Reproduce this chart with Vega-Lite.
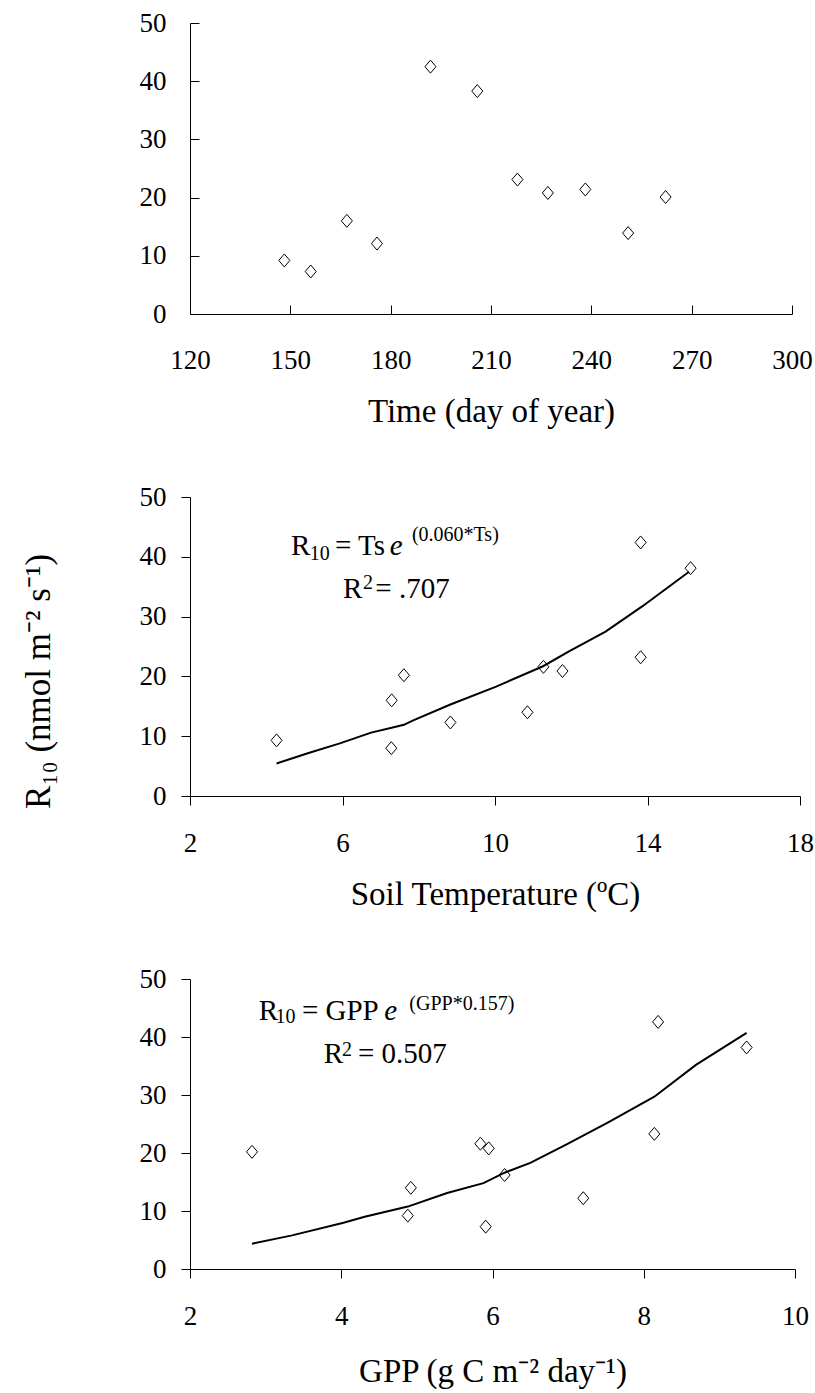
{
  "$schema": "https://vega.github.io/schema/vega-lite/v6.json",
  "background": "white",
  "padding": {"left": 20, "top": 9, "right": 10, "bottom": 10},
  "spacing": 183,
  "bounds": "flush",
  "config": {
    "view": {"stroke": null},
    "font": "Liberation Serif",
    "axis": {
      "grid": false,
      "domainColor": "black",
      "domainWidth": 1,
      "tickColor": "black",
      "tickWidth": 1,
      "tickSize": 9,
      "labelColor": "black",
      "titleColor": "black",
      "labelFont": "Liberation Serif",
      "titleFont": "Liberation Serif",
      "labelFontSize": 27,
      "titleFontSize": 33,
      "titleFontWeight": "normal",
      "labelOverlap": false,
      "labelFlush": false,
      "labelBound": false,
      "format": "d"
    }
  },
  "datasets": {
    "doy": [
      {"day": 148.2, "r10": 9.2},
      {"day": 156.1, "r10": 7.3},
      {"day": 166.9, "r10": 16.0},
      {"day": 175.9, "r10": 12.1},
      {"day": 191.9, "r10": 42.5},
      {"day": 205.9, "r10": 38.3},
      {"day": 217.9, "r10": 23.1},
      {"day": 227.0, "r10": 20.8},
      {"day": 238.2, "r10": 21.4},
      {"day": 251.0, "r10": 13.9},
      {"day": 262.2, "r10": 20.1}
    ],
    "ts": [
      {"ts": 4.27, "r10": 9.3},
      {"ts": 7.29, "r10": 16.0},
      {"ts": 7.28, "r10": 8.0},
      {"ts": 7.61, "r10": 20.2},
      {"ts": 8.83, "r10": 12.3},
      {"ts": 10.85, "r10": 14.0},
      {"ts": 11.27, "r10": 21.6},
      {"ts": 11.77, "r10": 20.9},
      {"ts": 13.82, "r10": 42.4},
      {"ts": 13.82, "r10": 23.2},
      {"ts": 15.13, "r10": 38.1}
    ],
    "tsfit": [
      {"ts": 4.27, "fit": 5.44},
      {"ts": 5.11, "fit": 7.2},
      {"ts": 5.93, "fit": 8.8},
      {"ts": 6.75, "fit": 10.6},
      {"ts": 7.29, "fit": 11.4},
      {"ts": 7.61, "fit": 11.9},
      {"ts": 7.84, "fit": 12.6},
      {"ts": 8.83, "fit": 15.3},
      {"ts": 10.03, "fit": 18.3},
      {"ts": 11.26, "fit": 21.7},
      {"ts": 11.94, "fit": 24.2},
      {"ts": 12.9, "fit": 27.5},
      {"ts": 13.86, "fit": 31.7},
      {"ts": 15.09, "fit": 37.5}
    ],
    "gpp": [
      {"gpp": 2.82, "r10": 20.2},
      {"gpp": 4.88, "r10": 9.2},
      {"gpp": 4.92, "r10": 14.0},
      {"gpp": 5.84, "r10": 21.6},
      {"gpp": 5.95, "r10": 20.8},
      {"gpp": 5.91, "r10": 7.3},
      {"gpp": 6.16, "r10": 16.2},
      {"gpp": 7.2, "r10": 12.2},
      {"gpp": 8.14, "r10": 23.3},
      {"gpp": 8.19, "r10": 42.6},
      {"gpp": 9.36, "r10": 38.2}
    ],
    "gppfit": [
      {"gpp": 2.82, "fit": 4.36},
      {"gpp": 3.35, "fit": 5.8},
      {"gpp": 4.03, "fit": 7.97},
      {"gpp": 4.31, "fit": 9.0},
      {"gpp": 4.88, "fit": 10.76},
      {"gpp": 5.4, "fit": 13.1},
      {"gpp": 5.88, "fit": 14.8},
      {"gpp": 6.16, "fit": 16.6},
      {"gpp": 6.5, "fit": 18.3},
      {"gpp": 6.98, "fit": 21.5},
      {"gpp": 7.53, "fit": 25.3},
      {"gpp": 8.14, "fit": 29.7},
      {"gpp": 8.69, "fit": 35.2},
      {"gpp": 9.36, "fit": 40.7}
    ],
    "ann2main": [
      {"x": 4.65, "y": 40.3, "t": "R"},
      {"x": 5.8, "y": 40.3, "t": "= Ts"},
      {"x": 6.01, "y": 33.1, "t": "R"},
      {"x": 6.86, "y": 33.1, "t": "= .707"}
    ],
    "ann2small": [
      {"x": 5.14, "y": 39.5, "t": "10"},
      {"x": 7.82, "y": 42.6, "t": "(0.060*Ts)"},
      {"x": 6.54, "y": 34.6, "t": "2"}
    ],
    "ann2ital": [
      {"x": 7.24, "y": 40.3, "t": "e"}
    ],
    "ann3main": [
      {"x": 2.91, "y": 42.9, "t": "R"},
      {"x": 3.48, "y": 42.9, "t": "= GPP"},
      {"x": 3.77, "y": 35.5, "t": "R"},
      {"x": 4.22, "y": 35.5, "t": "= 0.507"}
    ],
    "ann3small": [
      {"x": 3.13, "y": 42.4, "t": "10"},
      {"x": 4.9, "y": 44.7, "t": "(GPP*0.157)"},
      {"x": 4.01, "y": 36.7, "t": "2"}
    ],
    "ann3ital": [
      {"x": 4.57, "y": 42.9, "t": "e"}
    ]
  },
  "vconcat": [
    {
      "width": 602,
      "height": 291,
      "data": {"name": "doy"},
      "mark": {"type": "point", "shape": "M-0.85,0L0,-1L0.85,0L0,1Z", "size": 169, "filled": false, "stroke": "black", "strokeWidth": 1, "opacity": 1},
      "encoding": {
        "x": {
          "field": "day", "type": "quantitative",
          "scale": {"domain": [120, 300], "nice": false, "zero": false},
          "axis": {"values": [120, 150, 180, 210, 240, 270, 300], "title": "Time (day of year)", "tickSize": -9, "labelPadding": 42, "titlePadding": 22}
        },
        "y": {
          "field": "r10", "type": "quantitative",
          "scale": {"domain": [0, 50], "nice": false},
          "axis": {"values": [0, 10, 20, 30, 40, 50], "title": null, "tickSize": -9, "labelPadding": 33}
        }
      }
    },
    {
      "width": 610,
      "height": 299,
      "layer": [
        {
          "data": {"name": "tsfit"},
          "mark": {"type": "line", "color": "black", "strokeWidth": 2},
          "encoding": {
            "x": {"field": "ts", "type": "quantitative"},
            "y": {"field": "fit", "type": "quantitative"}
          }
        },
        {
          "data": {"name": "ts"},
          "mark": {"type": "point", "shape": "M-0.85,0L0,-1L0.85,0L0,1Z", "size": 169, "filled": false, "stroke": "black", "strokeWidth": 1, "opacity": 1},
          "encoding": {
            "x": {
              "field": "ts", "type": "quantitative",
              "scale": {"domain": [2, 18], "nice": false, "zero": false},
              "axis": {"values": [2, 6, 10, 14, 18], "title": "Soil Temperature (ºC)", "labelPadding": 25, "titlePadding": 22}
            },
            "y": {
              "field": "r10", "type": "quantitative",
              "scale": {"domain": [0, 50], "nice": false},
              "axis": {"values": [0, 10, 20, 30, 40, 50], "labelPadding": 15, "title": "R₁₀ (nmol m⁻² s⁻¹)", "titleFontSize": 35, "titleFontWeight": "normal", "titleX": -141, "titleY": 184, "titleBaseline": "alphabetic", "titleAlign": "center", "titleAngle": -90}
            }
          }
        },
        {
          "data": {"name": "ann2main"},
          "mark": {"type": "text", "align": "left", "baseline": "alphabetic", "fontSize": 29, "font": "Liberation Serif", "color": "black"},
          "encoding": {"x": {"field": "x", "type": "quantitative"}, "y": {"field": "y", "type": "quantitative"}, "text": {"field": "t"}}
        },
        {
          "data": {"name": "ann2small"},
          "mark": {"type": "text", "align": "left", "baseline": "alphabetic", "fontSize": 20, "font": "Liberation Serif", "color": "black"},
          "encoding": {"x": {"field": "x", "type": "quantitative"}, "y": {"field": "y", "type": "quantitative"}, "text": {"field": "t"}}
        },
        {
          "data": {"name": "ann2ital"},
          "mark": {"type": "text", "align": "left", "baseline": "alphabetic", "fontSize": 29, "fontStyle": "italic", "font": "Liberation Serif", "color": "black"},
          "encoding": {"x": {"field": "x", "type": "quantitative"}, "y": {"field": "y", "type": "quantitative"}, "text": {"field": "t"}}
        }
      ]
    },
    {
      "width": 605,
      "height": 290,
      "layer": [
        {
          "data": {"name": "gppfit"},
          "mark": {"type": "line", "color": "black", "strokeWidth": 2},
          "encoding": {
            "x": {"field": "gpp", "type": "quantitative"},
            "y": {"field": "fit", "type": "quantitative"}
          }
        },
        {
          "data": {"name": "gpp"},
          "mark": {"type": "point", "shape": "M-0.85,0L0,-1L0.85,0L0,1Z", "size": 169, "filled": false, "stroke": "black", "strokeWidth": 1, "opacity": 1},
          "encoding": {
            "x": {
              "field": "gpp", "type": "quantitative",
              "scale": {"domain": [2, 10], "nice": false, "zero": false},
              "axis": {"values": [2, 4, 6, 8, 10], "title": "GPP (g C m⁻² day⁻¹)", "labelPadding": 25, "titlePadding": 26}
            },
            "y": {
              "field": "r10", "type": "quantitative",
              "scale": {"domain": [0, 50], "nice": false},
              "axis": {"values": [0, 10, 20, 30, 40, 50], "labelPadding": 15, "title": null}
            }
          }
        },
        {
          "data": {"name": "ann3main"},
          "mark": {"type": "text", "align": "left", "baseline": "alphabetic", "fontSize": 29, "font": "Liberation Serif", "color": "black"},
          "encoding": {"x": {"field": "x", "type": "quantitative"}, "y": {"field": "y", "type": "quantitative"}, "text": {"field": "t"}}
        },
        {
          "data": {"name": "ann3small"},
          "mark": {"type": "text", "align": "left", "baseline": "alphabetic", "fontSize": 20, "font": "Liberation Serif", "color": "black"},
          "encoding": {"x": {"field": "x", "type": "quantitative"}, "y": {"field": "y", "type": "quantitative"}, "text": {"field": "t"}}
        },
        {
          "data": {"name": "ann3ital"},
          "mark": {"type": "text", "align": "left", "baseline": "alphabetic", "fontSize": 29, "fontStyle": "italic", "font": "Liberation Serif", "color": "black"},
          "encoding": {"x": {"field": "x", "type": "quantitative"}, "y": {"field": "y", "type": "quantitative"}, "text": {"field": "t"}}
        }
      ]
    }
  ]
}
